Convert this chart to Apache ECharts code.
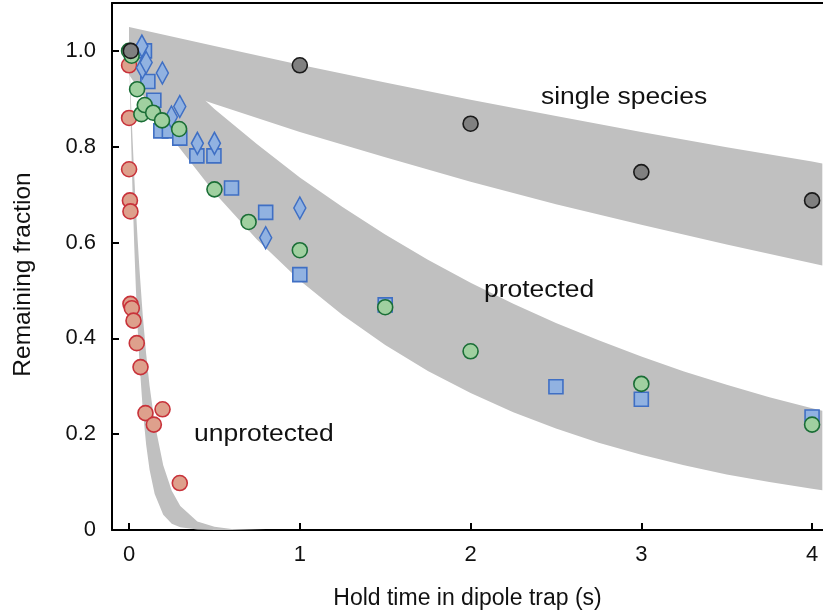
<!DOCTYPE html>
<html>
<head>
<meta charset="utf-8">
<script src="https://cdn.jsdelivr.net/npm/echarts@6/dist/echarts.min.js"></script>
<style>
  html, body { margin: 0; padding: 0; background: #fff; }
  #container { width: 823px; height: 615px; }
</style>
</head>
<body>
<div id="container"></div>
<script>
// datos medidos: [tiempo (s), fraccion]
var unprotectedPts = [[0, 0.97], [0, 0.86], [0, 0.753], [0.005, 0.688], [0.008, 0.665],
    [0.008, 0.472], [0.016, 0.463], [0.026, 0.437], [0.045, 0.39], [0.067, 0.34],
    [0.096, 0.244], [0.145, 0.22], [0.196, 0.252], [0.297, 0.098]];
var protectedCircles = [[0, 1.0], [0.015, 0.99], [0.047, 0.92], [0.072, 0.868], [0.092, 0.887],
    [0.141, 0.871], [0.193, 0.855], [0.293, 0.837], [0.5, 0.711], [0.7, 0.643],
    [1, 0.584], [1.5, 0.465], [2, 0.373], [3, 0.305], [4, 0.22]];
var protectedSquares = [[0.09, 1.0], [0.11, 0.936], [0.145, 0.897], [0.186, 0.833], [0.236, 0.833],
    [0.297, 0.818], [0.397, 0.781], [0.497, 0.781], [0.6, 0.714], [0.8, 0.663],
    [1, 0.533], [1.5, 0.47], [2.5, 0.299], [3, 0.273], [4, 0.236]];
var protectedDiamonds = [[0.075, 1.01], [0.078, 0.965], [0.1, 0.976], [0.195, 0.954], [0.248, 0.862],
    [0.297, 0.884], [0.4, 0.807], [0.5, 0.807], [0.8, 0.61], [1, 0.672]];
var singlePts = [[0.01, 1.0], [1, 0.97], [2, 0.848], [3, 0.747], [4, 0.688]];

// bandas teoricas (bordes)
var singleT = [0, 0.5, 1, 1.5, 2, 2.5, 3, 3.5, 4, 4.06];
var singleHi = [1.050, 1.010, 0.971, 0.934, 0.898, 0.864, 0.831, 0.799, 0.769, 0.765];
var singleLo = [0.950, 0.889, 0.831, 0.778, 0.727, 0.680, 0.637, 0.596, 0.557, 0.552];

var protT = [0, 0.25, 0.5, 0.75, 1, 1.25, 1.5, 1.75, 2, 2.25, 2.5, 2.75, 3, 3.25, 3.5, 3.75, 4, 4.06];
var protHi = [1.050, 0.961, 0.879, 0.805, 0.736, 0.674, 0.617, 0.564, 0.516, 0.472, 0.432, 0.396,
    0.362, 0.331, 0.303, 0.277, 0.254, 0.249];
var protLo = [0.950, 0.818, 0.704, 0.606, 0.521, 0.449, 0.386, 0.332, 0.286, 0.246, 0.212, 0.182,
    0.157, 0.135, 0.116, 0.100, 0.086, 0.083];

var unprotT = [0, 0.01, 0.02, 0.03, 0.04, 0.05, 0.06, 0.08, 0.1, 0.12, 0.15, 0.2, 0.25, 0.3, 0.4,
    0.5, 0.6, 0.8, 1.0];
var unprotHi = [1, 0.905, 0.819, 0.741, 0.670, 0.607, 0.549, 0.449, 0.368, 0.301, 0.223, 0.135,
    0.082, 0.050, 0.018, 0.007, 0.002, 0, 0];
var unprotLo = [1, 0.842, 0.708, 0.596, 0.502, 0.422, 0.355, 0.252, 0.178, 0.126, 0.075, 0.032,
    0.013, 0.006, 0.001, 0, 0, 0, 0];

var xTicks = [0, 1, 2, 3, 4];
var yTicks = [0, 0.2, 0.4, 0.6, 0.8, 1.0];

var FONT = 'Liberation Sans';

function band(xs, hi, lo) {
    return {
        type: 'custom',
        silent: true,
        clip: true,
        z: 1,
        data: xs.map(function (x, i) { return [x, hi[i], lo[i]]; }),
        encode: { x: 0, y: [1, 2] },
        renderItem: function (params, api) {
            if (params.dataIndex !== 0) return null;
            var pts = [];
            for (var i = 0; i < xs.length; i++) pts.push(api.coord([xs[i], hi[i]]));
            for (var j = xs.length - 1; j >= 0; j--) pts.push(api.coord([xs[j], lo[j]]));
            return { type: 'polygon', shape: { points: pts }, style: { fill: '#c0c0c0' } };
        }
    };
}

function points(data, symbol, size, fill, border) {
    return {
        type: 'scatter',
        data: data,
        symbol: symbol,
        symbolSize: size,
        z: 3,
        itemStyle: { color: fill, borderColor: border, borderWidth: 1.6, opacity: 1 }
    };
}

function label(text, x, y) {
    return {
        type: 'text', x: x, y: y, scaleX: 1.15, z: 100,
        style: { text: text, font: '23px ' + FONT, fill: '#111', textVerticalAlign: 'middle' }
    };
}

var dom = document.getElementById('container');
var myChart = echarts.init(dom);

var option = {
    animation: false,
    grid: { left: 112, right: 0, top: 3, bottom: 82 },
    xAxis: [{
        type: 'value',
        min: -0.1,
        max: 4.064,
        position: 'bottom',
        name: 'Hold time in dipole trap (s)',
        nameLocation: 'middle',
        nameGap: 57,
        nameTextStyle: { fontFamily: FONT, fontSize: 23, color: '#111' },
        axisLine: { onZero: false, lineStyle: { color: '#000', width: 2 } },
        axisTick: { inside: true, length: 7, customValues: xTicks, lineStyle: { color: '#000', width: 2 } },
        axisLabel: { customValues: xTicks, margin: 14, fontFamily: FONT, fontSize: 22, color: '#111' },
        splitLine: { show: false }
    }, {
        type: 'value',
        min: -0.1,
        max: 4.064,
        position: 'top',
        axisLine: { onZero: false, lineStyle: { color: '#000', width: 2 } },
        axisTick: { show: false },
        axisLabel: { show: false },
        splitLine: { show: false }
    }],
    yAxis: {
        type: 'value',
        min: 0,
        max: 1.1,
        name: 'Remaining fraction',
        nameLocation: 'middle',
        nameGap: 76,
        nameTextStyle: { fontFamily: FONT, fontSize: 24.5, color: '#111', padding: [0, 16, 0, 0] },
        axisLine: { onZero: false, lineStyle: { color: '#000', width: 2 } },
        axisTick: { inside: true, length: 7, customValues: yTicks, lineStyle: { color: '#000', width: 2 } },
        axisLabel: {
            customValues: yTicks,
            margin: 16,
            fontFamily: FONT,
            fontSize: 22,
            color: '#111',
            formatter: function (v) { return v === 0 ? '0' : v.toFixed(1); }
        },
        splitLine: { show: false }
    },
    graphic: [
        label('single species', 541, 98),
        label('protected', 484, 291),
        label('unprotected', 194, 435)
    ],
    series: [
        band(singleT, singleHi, singleLo),
        band(protT, protHi, protLo),
        band(unprotT, unprotHi, unprotLo),
        points(unprotectedPts, 'circle', 15, '#dea08c', '#c8323a'),
        points(protectedSquares, 'rect', 14, '#91b2e1', '#3f6fc4'),
        points(protectedDiamonds, 'diamond', [12, 22], '#91b2e1', '#3f6fc4'),
        points(protectedCircles, 'circle', 15, '#a0d0a0', '#1a6e36'),
        points(singlePts, 'circle', 15, '#808080', '#1a1a1a')
    ]
};

myChart.setOption(option);
window.addEventListener('resize', myChart.resize);
</script>
</body>
</html>
